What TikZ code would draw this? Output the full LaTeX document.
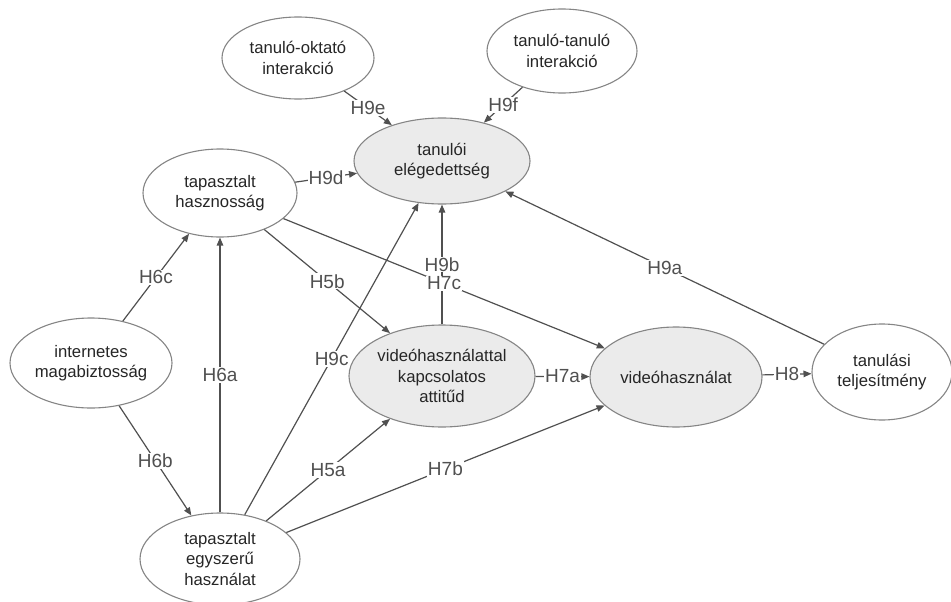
\documentclass[tikz,border=0pt]{standalone}
\usepackage{fontspec}
\setmainfont{Liberation Sans}
\usetikzlibrary{shapes.geometric,arrows.meta}

\definecolor{edgegray}{HTML}{505050}
\definecolor{bordergray}{HTML}{858585}
\definecolor{fillgray}{HTML}{EBEBEB}
\definecolor{labelgray}{HTML}{505050}

\begin{document}
\begin{tikzpicture}[x=1pt, y=-1pt,
    var/.style={ellipse, draw=bordergray, line width=1.1pt, fill=white, inner sep=0pt,
                align=center, text=black!85, font=\fontsize{16.7}{20.5}\selectfont},
    core/.style={var, fill=fillgray},
    path/.style={draw=edgegray, line width=1.2pt, -{Triangle[length=8pt,width=6.5pt]}},
    hyp/.style={midway, fill=white, inner sep=1pt, text=labelgray,
                font=\fontsize{19}{22}\selectfont}]
\useasboundingbox (0,0) rectangle (951,602);

% the variables
\node at (298,58)  [var,  minimum width=152pt, minimum height=82pt]  (TO) {tanuló-oktató\\interakció};
\node at (562,51)  [var,  minimum width=150pt, minimum height=84pt]  (TT) {tanuló-tanuló\\interakció};
\node at (442,161) [core, minimum width=176pt, minimum height=86pt]  (EL) {tanulói\\elégedettség};
\node at (220,193) [var,  minimum width=154pt, minimum height=88pt]  (HA) {tapasztalt\\hasznosság};
\node at (91,363)  [var,  minimum width=162pt, minimum height=90pt]  (IM) {internetes\\magabiztosság};
\node at (220,559) [var,  minimum width=160pt, minimum height=92pt]  (EH) {tapasztalt\\egyszerű\\használat};
\node at (442,376) [core, minimum width=186pt, minimum height=102pt] (AT) {videóhasználattal\\kapcsolatos\\attitűd};
\node at (676,377) [core, minimum width=172pt, minimum height=100pt] (VH) {videóhasználat};
\node at (882,372) [var,  minimum width=140pt, minimum height=96pt]  (TE) {tanulási\\teljesítmény};

% the hypotheses
\draw[path] (TO) -- node[hyp] {H9e} (EL);
\draw[path] (TT) -- node[hyp] {H9f} (EL);
\draw[path] (HA) -- node[hyp] {H9d} (EL);
\draw[path] (IM) -- node[hyp] {H6c} (HA);
\draw[path] (EH) -- node[hyp] {H6a} (HA);
\draw[path] (IM) -- node[hyp] {H6b} (EH);
\draw[path] (HA) -- node[hyp] {H5b} (AT);
\draw[path] (AT) -- node[hyp] {H9b} (EL);
\draw[path] (HA) -- node[hyp] {H7c} (VH);
\draw[path] (EH) -- node[hyp] {H9c} (EL);
\draw[path] (EH) -- node[hyp] {H5a} (AT);
\draw[path] (EH) -- node[hyp] {H7b} (VH);
\draw[path] (AT) -- node[hyp] {H7a} (VH);
\draw[path] (VH) -- node[hyp] {H8} (TE);
\draw[path] (TE) -- node[hyp] {H9a} (EL);

\end{tikzpicture}
\end{document}
